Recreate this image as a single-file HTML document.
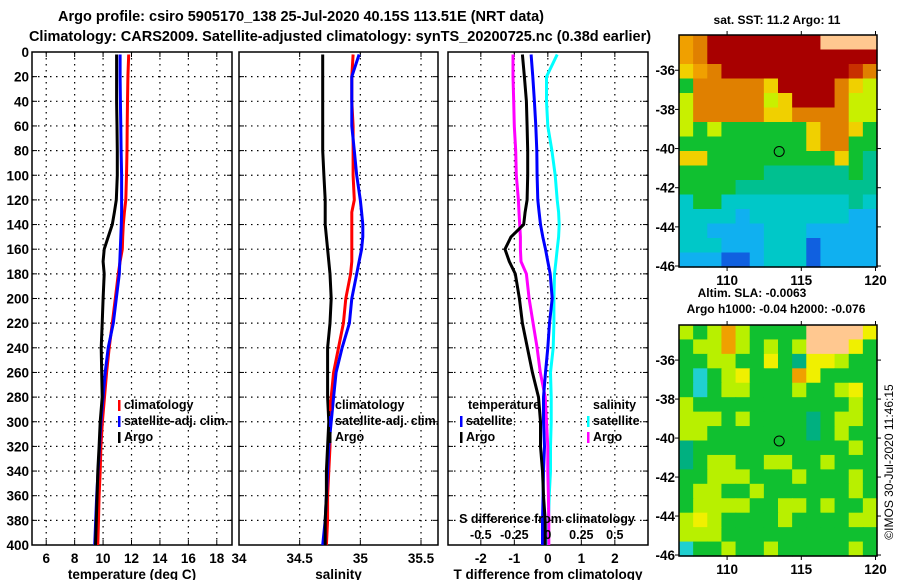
<!DOCTYPE html>
<html><head><meta charset="utf-8"><style>
html,body{margin:0;padding:0;background:#fff;}
svg{display:block;font-family:"Liberation Sans",Arial,sans-serif;font-weight:bold;}
</style></head><body>
<svg id="fig" width="900" height="580" viewBox="0 0 900 580" xmlns="http://www.w3.org/2000/svg">
<text x="301" y="21" font-size="14.5" text-anchor="middle">Argo profile: csiro 5905170_138 25-Jul-2020 40.15S 113.51E (NRT data)</text>
<text x="340" y="41" font-size="14.5" text-anchor="middle">Climatology: CARS2009. Satellite-adjusted climatology: synTS_20200725.nc (0.38d earlier)</text>
<g id="plots"></g>
<g id="maps"></g>
<text x="777" y="24" font-size="12" text-anchor="middle">sat. SST: 11.2 Argo: 11</text>
<text x="752" y="297" font-size="12" text-anchor="middle">Altim. SLA: -0.0063</text>
<text x="776" y="313" font-size="12" text-anchor="middle">Argo h1000: -0.04 h2000: -0.076</text>
<text font-size="12" font-weight="normal" transform="translate(893,462) rotate(-90)" text-anchor="middle">©IMOS 30-Jul-2020 11:46:15</text>
</svg>
<script>
// ---- profile data ----
const depths = [0,20,40,60,80,100,120,130,140,150,160,170,180,200,220,240,260,280,300,320,340,360,380,400];
const tempArgo = [10.95,10.95,10.95,10.98,11.0,11.0,10.93,10.8,10.65,10.36,10.08,10.0,10.08,10.0,9.94,9.87,9.9,9.94,9.8,9.72,9.63,9.58,9.52,9.47];
const tempClim = [11.8,11.75,11.72,11.7,11.68,11.65,11.6,11.5,11.42,11.38,11.35,11.2,11.07,10.86,10.65,10.43,10.25,10.1,9.95,9.85,9.8,9.72,9.68,9.63];
const tempSat  = [11.2,11.2,11.22,11.25,11.27,11.3,11.3,11.3,11.28,11.25,11.21,11.18,11.14,10.93,10.72,10.36,10.15,10.0,9.85,9.75,9.65,9.55,9.48,9.41];
const salArgo = [34.69,34.69,34.69,34.69,34.69,34.7,34.71,34.71,34.71,34.72,34.73,34.74,34.75,34.76,34.75,34.73,34.73,34.73,34.74,34.73,34.72,34.72,34.71,34.71];
const salClim = [34.94,34.93,34.93,34.94,34.94,34.94,34.95,34.93,34.93,34.93,34.93,34.93,34.92,34.88,34.86,34.82,34.78,34.76,34.75,34.75,34.74,34.73,34.73,34.72];
const salSat  = [34.99,34.93,34.93,34.93,34.95,34.97,35.0,35.01,35.02,35.02,35.01,34.99,34.97,34.93,34.91,34.85,34.8,34.78,34.76,34.74,34.73,34.72,34.71,34.69];
const dTempArgo = [-0.76,-0.7,-0.64,-0.62,-0.6,-0.6,-0.62,-0.68,-0.72,-1.1,-1.28,-1.15,-0.97,-0.85,-0.76,-0.61,-0.46,-0.28,-0.22,-0.22,-0.16,-0.13,-0.08,-0.08];
const dTempSat  = [-0.5,-0.45,-0.4,-0.36,-0.33,-0.32,-0.3,-0.26,-0.22,-0.15,-0.07,0.0,0.07,0.13,0.05,0.0,-0.07,-0.13,-0.13,-0.1,-0.13,-0.14,-0.16,-0.16];
const dSalArgo  = [-0.26,-0.26,-0.255,-0.25,-0.24,-0.235,-0.22,-0.215,-0.21,-0.205,-0.205,-0.2,-0.16,-0.14,-0.11,-0.08,-0.056,-0.02,-0.01,0.0,0.0,0.004,0.007,0.007];
const dSalSat   = [0.07,-0.01,-0.01,0.0,0.03,0.055,0.07,0.08,0.085,0.08,0.07,0.06,0.05,0.045,0.045,0.04,0.02,0.025,0.025,0.02,0.02,0.01,0.005,0.0];
const depthTicks = [0,20,40,60,80,100,120,140,160,180,200,220,240,260,280,300,320,340,360,380,400];
const tempTicks = [6,8,10,12,14,16,18];
const salTicks = [34,34.5,35,35.5];
const salTickLabels = ["34","34.5","35","35.5"];
const dTempTicks = [-2,-1,0,1,2];
const dSalTicks = [-0.5,-0.25,0,0.25,0.5];
const dSalTickLabels = ["-0.5","-0.25","0","0.25","0.5"];

const NS='http://www.w3.org/2000/svg';
function mk(tag, attrs, parent){const e=document.createElementNS(NS,tag);for(const k in attrs)e.setAttribute(k,attrs[k]);parent.appendChild(e);return e;}
const Y0=52, Y1=545;
const yScale = d => Y0 + (d/400)*(Y1-Y0);
const panels = [
 {x0:32,x1:232,dmin:5,dmax:19.07,ticks:tempTicks,labels:tempTicks.map(String),title:'temperature (deg C)',name:'temperature-panel'},
 {x0:239,x1:438,dmin:34,dmax:35.64,ticks:salTicks,labels:salTickLabels,title:'salinity',name:'salinity-panel'},
 {x0:448,x1:648,dmin:-2.98,dmax:2.99,ticks:dTempTicks,labels:dTempTicks.map(String),title:'T difference from climatology',name:'difference-panel'}
];
panels.forEach(p=>{p.sx=v=>p.x0+(v-p.dmin)/(p.dmax-p.dmin)*(p.x1-p.x0);});
const dSalScale = v => panels[2].sx(v*4);
const G=document.getElementById('plots');
panels.forEach((p,pi)=>{
  const g=mk('g',{},G);
  
  
  depthTicks.forEach(d=>{ if(d>0&&d<400){const l=mk('line',{x1:p.x0,x2:p.x1,y1:yScale(d),y2:yScale(d),stroke:'#000','stroke-width':1.2,'stroke-dasharray':'1.5,4.5'},g);
     }
    mk('line',{x1:p.x0,x2:p.x0+5,y1:yScale(d),y2:yScale(d),stroke:'#000','stroke-width':1},g);
    mk('line',{x1:p.x1-5,x2:p.x1,y1:yScale(d),y2:yScale(d),stroke:'#000','stroke-width':1},g);
  });
  p.ticks.forEach((t,i)=>{const x=p.sx(t);
    if(x>p.x0+2&&x<p.x1-2){const l=mk('line',{x1:x,x2:x,y1:Y0,y2:Y1,stroke:'#000','stroke-width':1.2,'stroke-dasharray':'1.5,4.5'},g);
       }
    mk('line',{x1:x,x2:x,y1:Y1-5,y2:Y1,stroke:'#000'},g);
    mk('line',{x1:x,x2:x,y1:Y0,y2:Y0+5,stroke:'#000'},g);
    const tx=mk('text',{x:x,y:563,'font-size':13.5,'text-anchor':'middle'},g); tx.textContent=p.labels[i];
     
  });
  const r=mk('rect',{x:p.x0,y:Y0,width:p.x1-p.x0,height:Y1-Y0,fill:'none',stroke:'#000','stroke-width':1.5},g);
   
  const tt=mk('text',{x:(p.x0+p.x1)/2,y:579,'font-size':13.5,'text-anchor':'middle'},g); tt.textContent=p.title;
   
});
depthTicks.forEach(d=>{const t=mk('text',{x:29,y:yScale(d)+5,'font-size':13.5,'text-anchor':'end'},G);t.textContent=d;
   });
function series(vals, sx, color, name){
  const pts=vals.map((v,i)=>sx(v).toFixed(1)+','+yScale(Math.max(depths[i],i===0?2:0)).toFixed(1)).join(' ');
  const pl=mk('polyline',{points:pts,fill:'none',stroke:color,'stroke-width':3,'stroke-linejoin':'round'},G);
  
  
}
series(tempClim,panels[0].sx,'#f00','temperature-climatology-line');
series(tempSat,panels[0].sx,'#00f','temperature-satellite-line');
series(tempArgo,panels[0].sx,'#000','temperature-argo-line');
series(salClim,panels[1].sx,'#f00','salinity-climatology-line');
series(salSat,panels[1].sx,'#00f','salinity-satellite-line');
series(salArgo,panels[1].sx,'#000','salinity-argo-line');
series(dSalSat,dSalScale,'#0ff','salinity-diff-satellite-line');
series(dSalArgo,dSalScale,'#f0f','salinity-diff-argo-line');
series(dTempSat,panels[2].sx,'#00f','temperature-diff-satellite-line');
series(dTempArgo,panels[2].sx,'#000','temperature-diff-argo-line');
// S diff axis labels
const sdt=mk('text',{x:547,y:523,'font-size':12.5,'text-anchor':'middle'},G); sdt.textContent='S difference from climatology';
 
dSalTicks.forEach((t,i)=>{const tx=mk('text',{x:dSalScale(t),y:539,'font-size':12.5,'text-anchor':'middle'},G);tx.textContent=dSalTickLabels[i];
   });
// legends
function legend(x,y,color,label){
  mk('rect',{x:x,y:y-9,width:2.5,height:11,fill:color},G);
  const t=mk('text',{x:x+6,y:y,'font-size':12.5},G);t.textContent=label;
   
}
legend(118,409,'#f00','climatology');legend(118,425,'#00f','satellite-adj. clim.');legend(118,441,'#000','Argo');
legend(329,409,'#f00','climatology');legend(329,425,'#00f','satellite-adj. clim.');legend(329,441,'#000','Argo');
let lt=mk('text',{x:468,y:409,'font-size':12.5},G);lt.textContent='temperature';
 
lt=mk('text',{x:593,y:409,'font-size':12.5},G);lt.textContent='salinity';
 
legend(460,425,'#00f','satellite');legend(460,441,'#000','Argo');
legend(587,425,'#0ff','satellite');legend(587,441,'#f0f','Argo');

// ---- maps ----
const sstGrid = [
"oORRRRRRRRLLLL",
"oORRRRRRRRRRRR",
"YoORRRRRRRRRrO",
"GOOOOOYRRRROYy",
"yOOOOOyYRRROyy",
"yOOOOOYYOOOOyy",
"yGyGGGGGGYOOYG",
"GGGGGGGGGYOOGG",
"YYGGGGGGGGGYGc",
"GGGGGGccccccGc",
"GGGGcccccccccc",
"CGGCCCCCCCCCcC",
"CCCCBCCCCCCCBB",
"CCBBBBCCCBBBBB",
"CCCBBBCCCbBBBB",
"BBBbbBCCCbBBBB"];
const slaGrid = [
"yGyOyGGGGLLLLY",
"GyyOyGyGyLLLYG",
"GGyyGGYGcYYyGG",
"GCGyYGGGOYGGGG",
"GCGyyGGGyGGyYG",
"yGGGGGGGGGGGyG",
"yyyGyGGGGcGyyG",
"yyGGGGGGGcGyGG",
"cGGGGGGGGGGGyG",
"cGyyGGyyGGyGGG",
"GGyyyGGGyGGGyG",
"GyyGGyGGGGGGyG",
"GyyyyGGyyGyGGy",
"yYyGGGGyGGGGyy",
"yyyGGGGGGGGGGG",
"CGGyGGyGGGGGyG"];
const sstColors={R:'#a80000',r:'#c83000',O:'#e08000',o:'#f0a000',Y:'#f0d000',y:'#c8f000',G:'#10c030',c:'#00c090',C:'#00c8c8',B:'#10b0f0',b:'#1060e0',L:'#ffc890'};
const slaColors={G:'#10c030',y:'#b8f000',Y:'#f0f000',O:'#f0a000',c:'#00b080',C:'#20d0d0',L:'#ffc890'};
const lonTicks=[110,115,120];
const latTicks=[-36,-38,-40,-42,-44,-46];
const argoLon=113.51, argoLat=-40.15;
const M=document.getElementById('maps');
function drawMap(grid,colors,x0,y0,x1,y1,name,latTop,latBot){
  const g=mk('g',{},M);
  
  
  const rows=grid.length, cols=grid[0].length, cw=(x1-x0)/cols, ch=(y1-y0)/rows;
  grid.forEach((row,ri)=>{for(let ci=0;ci<cols;ci++){mk('rect',{x:(x0+ci*cw).toFixed(2),y:(y0+ri*ch).toFixed(2),width:(cw+0.6).toFixed(2),height:(ch+0.6).toFixed(2),fill:colors[row[ci]]},g);}});
  const lx=v=>x0+(v-106.76)/(120.1-106.76)*(x1-x0);
  const ly=v=>y0+(latTop-v)/(latTop-latBot)*(y1-y0);
  mk('rect',{x:x0,y:y0,width:x1-x0,height:y1-y0,fill:'none',stroke:'#000','stroke-width':1.5},g);
  lonTicks.forEach(t=>{const x=lx(t);mk('line',{x1:x,x2:x,y1:y1,y2:y1+4,stroke:'#000'},g);mk('line',{x1:x,x2:x,y1:y0-4,y2:y0,stroke:'#000'},g);
    const tx=mk('text',{x:x,y:y1+18,'font-size':13.5,'text-anchor':'middle'},g);tx.textContent=t;
     });
  latTicks.forEach(t=>{const y=ly(t);mk('line',{x1:x0-4,x2:x0,y1:y,y2:y,stroke:'#000'},g);mk('line',{x1:x1,x2:x1+4,y1:y,y2:y,stroke:'#000'},g);
    const tx=mk('text',{x:x0-4,y:y+5,'font-size':13.5,'text-anchor':'end'},g);tx.textContent=t;
     });
  const c=mk('circle',{cx:lx(argoLon),cy:ly(argoLat),r:5,fill:'none',stroke:'#000','stroke-width':1},g);
   
}
drawMap(sstGrid,sstColors,679,35,877,267,'sst-map',-34.2,-46.05);
drawMap(slaGrid,slaColors,679,325,877,556,'sla-map',-34.2,-46.05);
</script>
</body></html>
